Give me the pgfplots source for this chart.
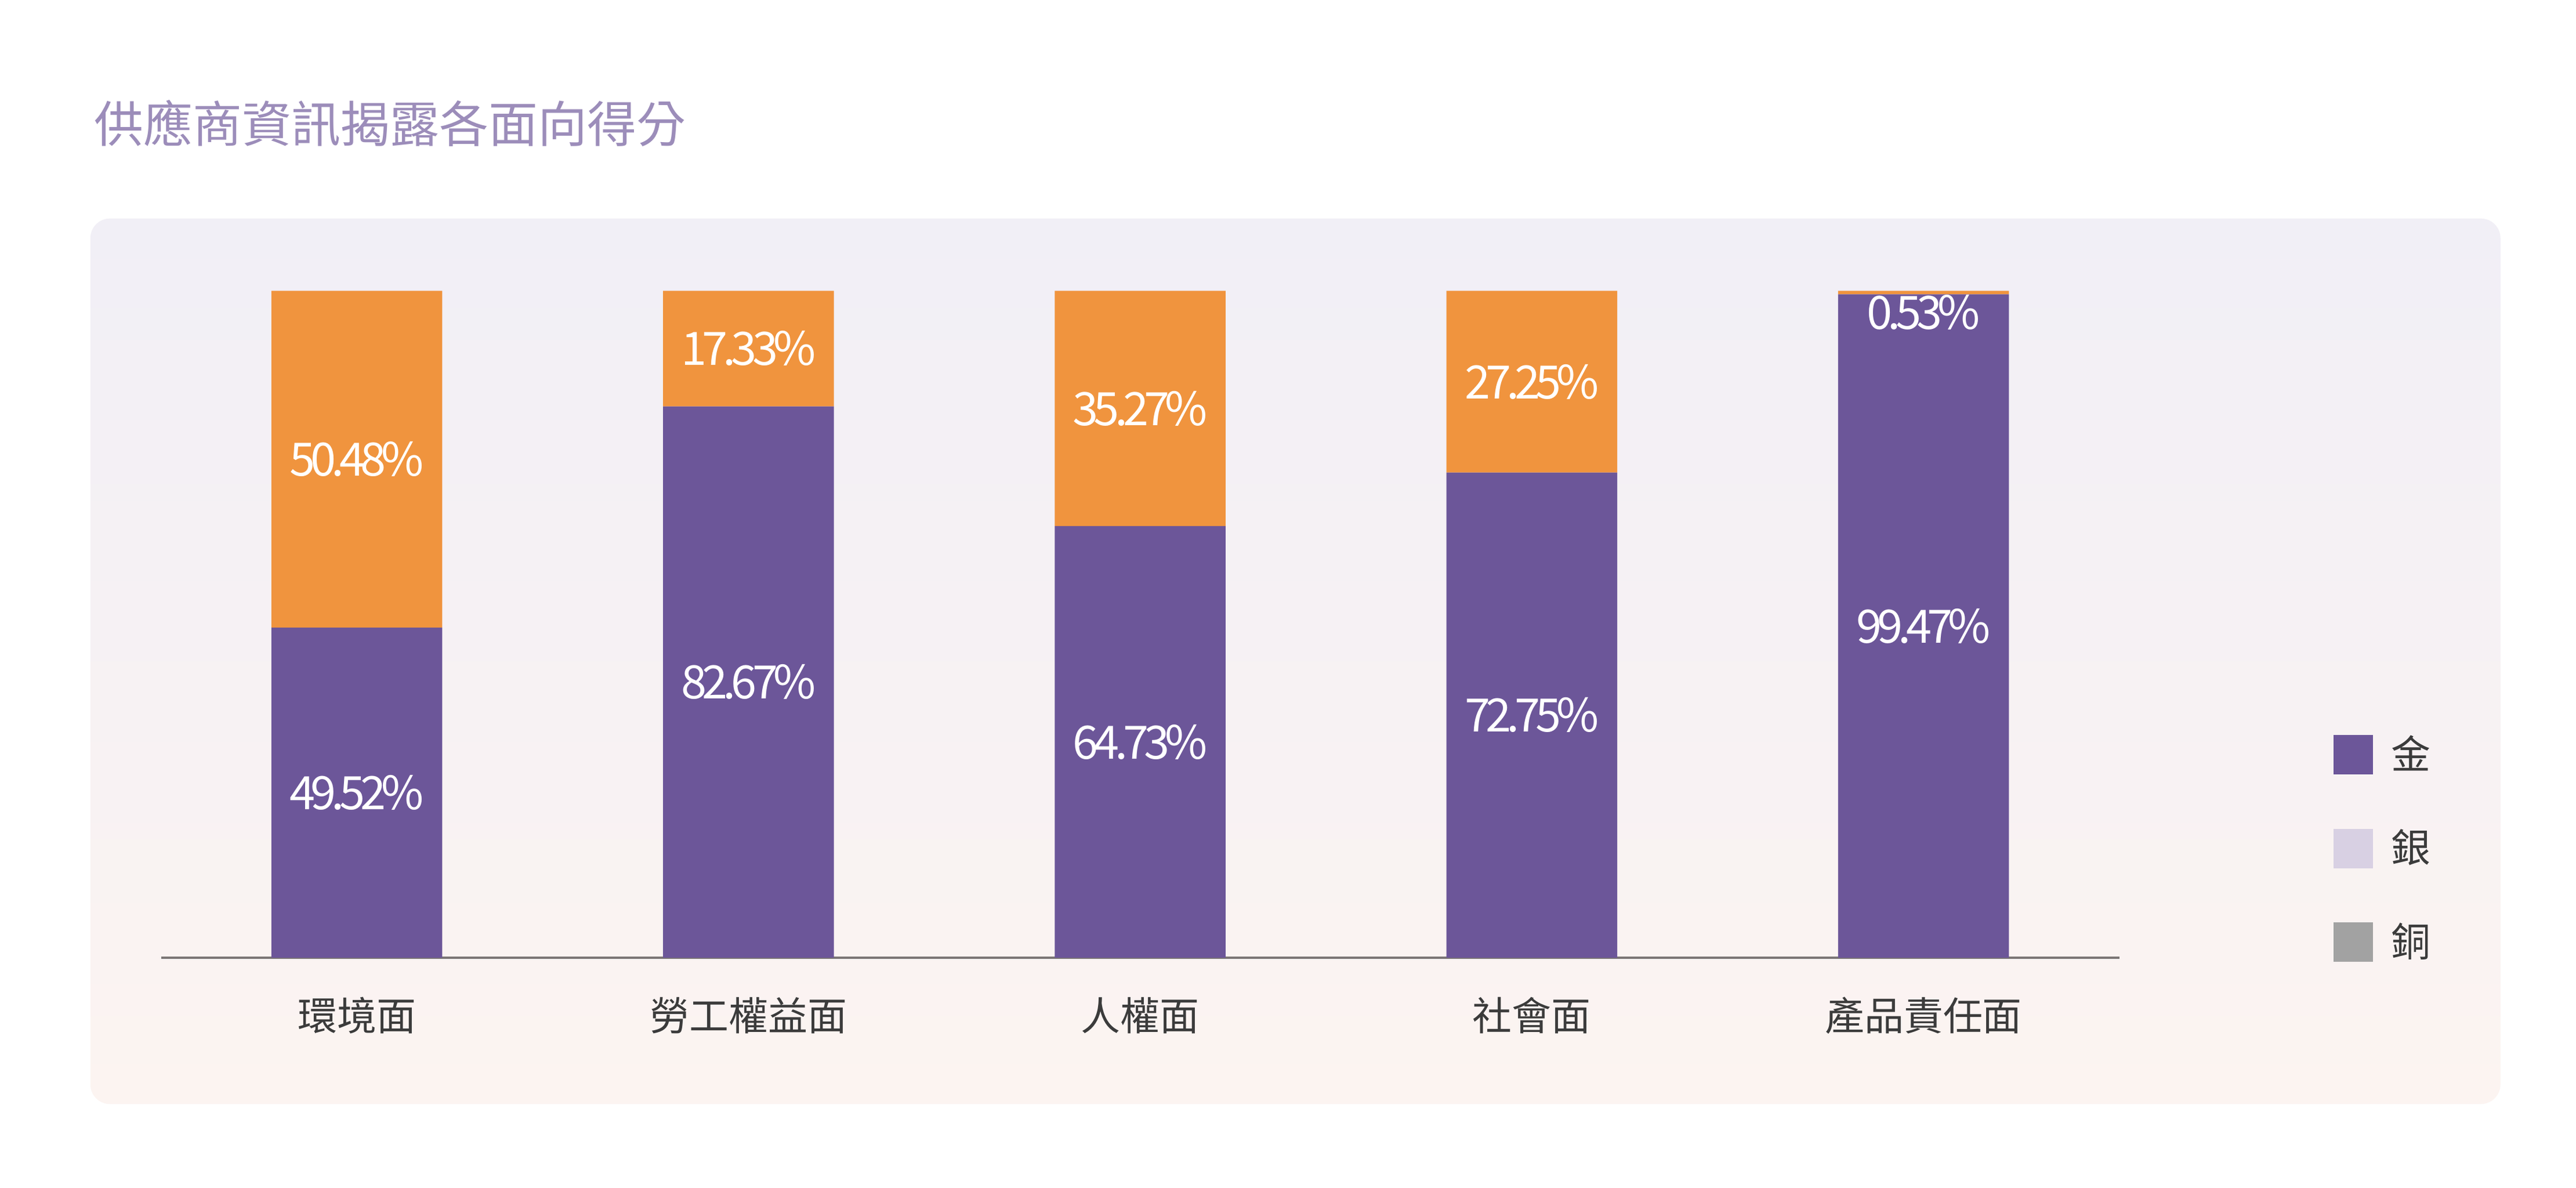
\documentclass[border=0pt]{standalone}
\usepackage{fontspec}
\setmainfont{Noto Sans CJK TC}
\newfontfamily\numfont[LetterSpace=-10]{Noto Sans CJK TC}
\usepackage{pgfplots}
\pgfplotsset{compat=1.18}
\definecolor{goldc}{HTML}{6C5699}
\definecolor{orangec}{HTML}{F0943E}
\definecolor{silverc}{HTML}{D8D0E3}
\definecolor{bronzec}{HTML}{A2A2A2}
\definecolor{titlec}{HTML}{9C8DBA}
\definecolor{labelc}{HTML}{3B3B3B}
\definecolor{axisc}{HTML}{7A7575}
\definecolor{paneltop}{HTML}{F1EFF6}
\definecolor{panelbot}{HTML}{FCF4F1}
\begin{document}
\begin{tikzpicture}
\fill[white] (0,0) rectangle (784bp,361.5bp);
\shade[top color=paneltop, bottom color=panelbot, rounded corners=6bp] (27.5bp,25.5bp) rectangle (761bp,295bp);
\node[anchor=west, text=titlec, font=\fontsize{15bp}{18bp}\selectfont, inner sep=0pt] at (28.5bp,324bp) {供應商資訊揭露各面向得分};
\begin{axis}[
  at={(49bp,70bp)}, anchor=south west,
  width=596bp, height=203bp, scale only axis,
  xmin=-0.5, xmax=4.5, ymin=0, ymax=100,
  ybar stacked, bar width=52bp,
  axis x line*=bottom, axis y line=none,
  x axis line style={color=axisc, line width=0.8bp},
  xtick={0,1,2,3,4},
  xticklabels={環境面,勞工權益面,人權面,社會面,產品責任面},
  major tick length=0pt,
  xticklabel style={anchor=center, yshift=-17.5bp, text=labelc, font=\fontsize{12bp}{14bp}\selectfont},
  ytick=\empty,
  clip=false,
  legend image code/.code={\fill[#1] (0bp,-6bp) rectangle (12bp,6bp);},
  legend style={at={(1.1091,0.335)}, anchor=north west, draw=none, fill=none, inner sep=0pt,
    row sep=16.5bp, column sep=5.5bp, nodes={inner sep=0pt}, text=labelc,
    font=\fontsize{12bp}{14bp}\selectfont},
  legend cell align=left,
]
\addplot[fill=goldc, draw=none, forget plot] coordinates {(0,49.52) (1,82.67) (2,64.73) (3,72.75) (4,99.47)};
\addplot[fill=orangec, draw=none, forget plot] coordinates {(0,50.48) (1,17.33) (2,35.27) (3,27.25) (4,0.53)};
\addlegendimage{fill=goldc, draw=none}
\addlegendentry{金}
\addlegendimage{fill=silverc, draw=none}
\addlegendentry{銀}
\addlegendimage{fill=bronzec, draw=none}
\addlegendentry{銅}
\end{axis}
\begin{axis}[
  at={(49bp,70bp)}, anchor=south west,
  width=596bp, height=203bp, scale only axis,
  xmin=-0.5, xmax=4.5, ymin=0, ymax=100,
  hide axis, clip=false,
]
\addplot[only marks, mark=none, nodes near coords={\pgfplotspointmeta\%}, point meta=explicit symbolic,
  nodes near coords align=center,
  every node near coord/.append style={text=white, inner sep=0pt, font=\numfont\fontsize{14bp}{16bp}\selectfont}]
  table[meta=lab] {
x y lab
0 24.76 49.52
1 41.335 82.67
2 32.365 64.73
3 36.375 72.75
4 49.735 99.47
0 74.76 50.48
1 91.335 17.33
2 82.365 35.27
3 86.375 27.25
4 96.8 0.53
};
\end{axis}
\end{tikzpicture}
\end{document}
